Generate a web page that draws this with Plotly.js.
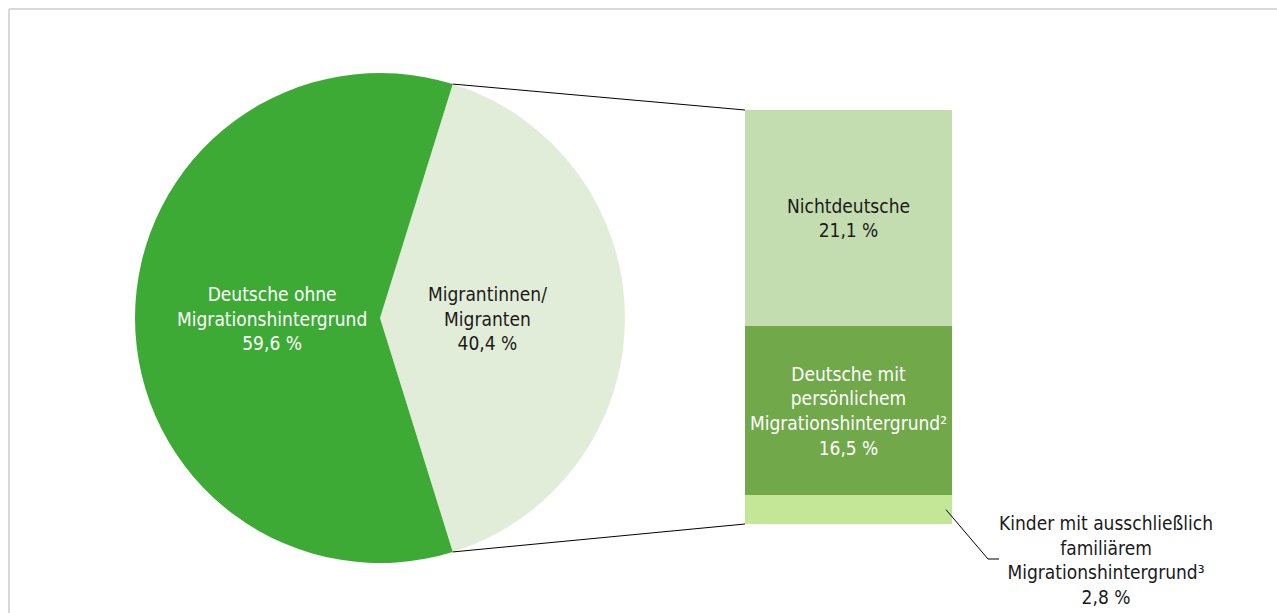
<!DOCTYPE html>
<html>
<head>
<meta charset="utf-8">
<script src="https://cdn.plot.ly/plotly-3.0.1.min.js"></script>
<style>html,body{margin:0;padding:0;background:#fff;}#chart{width:1277px;height:613px;}</style>
</head>
<body>
<div id="chart"></div>
<script>
// ---- data ----
var pieLabels = ["Migrantinnen/<br>Migranten", "Deutsche ohne<br>Migrationshintergrund"];
var pieValues = [40.4, 59.6];
var pieColors = ["#E2EDD9", "#3DAA35"];
var pieTextColors = ["#1a1a1a", "#ffffff"];

var barLabels = ["Kinder mit ausschließlich<br>familiärem<br>Migrationshintergrund³",
                 "Deutsche mit<br>persönlichem<br>Migrationshintergrund²",
                 "Nichtdeutsche"];
var barValues = [2.8, 16.5, 21.1];
var barColors = ["#C3E796", "#70A84A", "#C4DDB0"];
var barTextColors = ["#1a1a1a", "#ffffff", "#1a1a1a"];

function fmt(v){ return v.toFixed(1).replace(".", ",") + " %"; }

// ---- layout helpers (pixel -> paper) ----
var W = 1277, H = 613;
function px(x){ return x / W; }
function py(y){ return 1 - y / H; }

var FONT = "DejaVu Sans Condensed, Liberation Sans Narrow, sans-serif";
var FS = 19;

var pieCx = 380, pieCy = 318, pieR = 245;
var barL = 745, barR = 952, barTop = 110, barBot = 524;

var migr = pieValues[0];
var half = 360 * migr / 100 / 2; // half-angle of migrant slice (deg)

var traces = [];
traces.push({
  type: "pie",
  values: pieValues,
  labels: pieLabels,
  sort: false,
  direction: "clockwise",
  rotation: 90 - half,
  marker: {colors: pieColors, line: {width: 0}},
  textinfo: "none",
  hoverinfo: "skip",
  domain: {x: [px(pieCx - pieR), px(pieCx + pieR)], y: [py(pieCy + pieR), py(pieCy - pieR)]},
  showlegend: false
});

var barTotal = barValues.reduce(function(a,b){return a+b;}, 0);
for (var i = 0; i < barValues.length; i++) {
  traces.push({
    type: "bar",
    x: [0],
    y: [barValues[i]],
    width: 1,
    marker: {color: barColors[i], line: {width: 0}},
    text: i === 0 ? [""] : [barLabels[i] + "<br>" + fmt(barValues[i])],
    textposition: "inside",
    insidetextanchor: "middle",
    constraintext: "none",
    textangle: 0,
    textfont: {family: FONT, size: FS, color: barTextColors[i]},
    hoverinfo: "skip",
    showlegend: false,
    xaxis: "x", yaxis: "y"
  });
}

// annotations for pie labels
var annotations = [];
var angles = [0, 180]; // bisector directions (deg from +x): migrant slice right, other left
for (var k = 0; k < pieValues.length; k++) {
  var a = angles[k] * Math.PI / 180;
  var lx = pieCx + 0.44 * pieR * Math.cos(a);
  var ly = pieCy - 0.44 * pieR * Math.sin(a);
  annotations.push({
    xref: "paper", yref: "paper", x: px(lx), y: py(ly),
    text: pieLabels[k] + "<br>" + fmt(pieValues[k]),
    showarrow: false, xanchor: "center", yanchor: "middle",
    font: {family: FONT, size: FS, color: pieTextColors[k]}
  });
}
// small bar segment label (outside)
annotations.push({
  xref: "paper", yref: "paper", x: px(1106), y: py(560),
  text: barLabels[0] + "<br>" + fmt(barValues[0]),
  showarrow: false, xanchor: "center", yanchor: "middle",
  font: {family: FONT, size: FS, color: "#1a1a1a"}
});

// connector lines from pie slice edges to bar
var ar = half * Math.PI / 180;
var topPt = [pieCx + pieR * Math.cos(ar), pieCy - pieR * Math.sin(ar)];
var botPt = [pieCx + pieR * Math.cos(ar), pieCy + pieR * Math.sin(ar)];
var kidMid = barBot - (barValues[0] / 2) / barTotal * (barBot - barTop);
var shapes = [
  {type: "line", xref: "paper", yref: "paper", x0: px(topPt[0]), y0: py(topPt[1]), x1: px(barL), y1: py(barTop), line: {color: "#000", width: 1}},
  {type: "line", xref: "paper", yref: "paper", x0: px(botPt[0]), y0: py(botPt[1]), x1: px(barL), y1: py(barBot), line: {color: "#000", width: 1}},
  {type: "path", xref: "paper", yref: "paper",
   path: "M " + px(barR - 6) + " " + py(kidMid) + " L " + px(988) + " " + py(559) + " L " + px(999) + " " + py(559),
   line: {color: "#000", width: 1}},
  // frame
  {type: "line", xref: "paper", yref: "paper", x0: px(9), y0: py(9), x1: px(W + 5), y1: py(9), line: {color: "#D9D9D9", width: 2}},
  {type: "line", xref: "paper", yref: "paper", x0: px(9), y0: py(9), x1: px(9), y1: py(H + 5), line: {color: "#D9D9D9", width: 2}}
];

var layout = {
  width: W, height: H,
  margin: {l: 0, r: 0, t: 0, b: 0},
  paper_bgcolor: "#fff", plot_bgcolor: "rgba(0,0,0,0)",
  barmode: "stack",
  showlegend: false,
  xaxis: {domain: [px(barL), px(barR)], range: [-0.5, 0.5], visible: false, fixedrange: true},
  yaxis: {domain: [py(barBot), py(barTop)], range: [0, barTotal], visible: false, fixedrange: true},
  annotations: annotations,
  shapes: shapes,
  font: {family: FONT, size: FS}
};

Plotly.newPlot("chart", traces, layout, {displayModeBar: false, staticPlot: true});
</script>
</body>
</html>
